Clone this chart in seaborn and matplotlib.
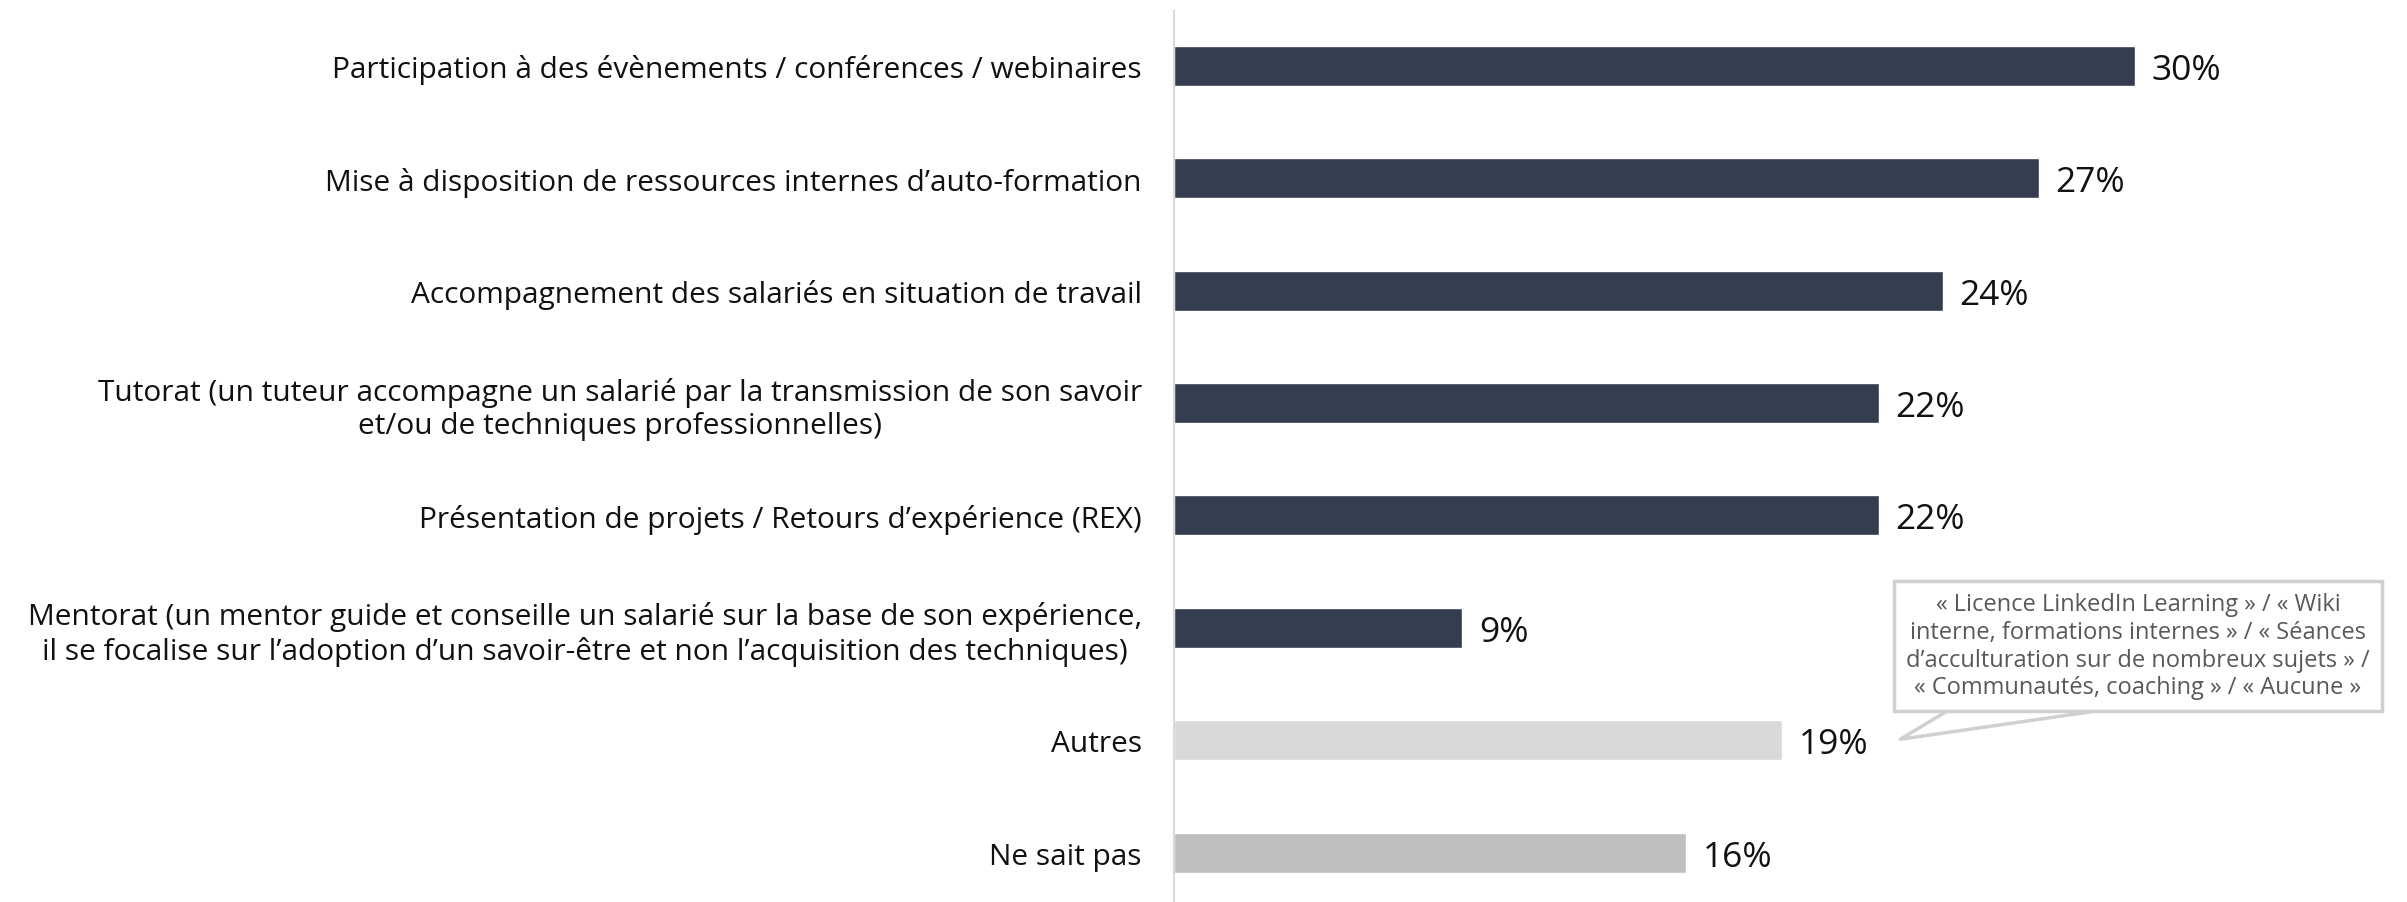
import matplotlib
matplotlib.use("Agg")
import matplotlib.pyplot as plt
import seaborn as sns
import pandas as pd

categories = [
    "Participation à des évènements / conférences / webinaires",
    "Mise à disposition de ressources internes d’auto-formation",
    "Accompagnement des salariés en situation de travail",
    "Tutorat (un tuteur accompagne un salarié par la transmission de son savoir\net/ou de techniques professionnelles)",
    "Présentation de projets / Retours d’expérience (REX)",
    "Mentorat (un mentor guide et conseille un salarié sur la base de son expérience,\nil se focalise sur l’adoption d’un savoir-être et non l’acquisition des techniques)",
    "Autres",
    "Ne sait pas",
]
values = [30, 27, 24, 22, 22, 9, 19, 16]
bar_colors = ["#343E50"] * 6 + ["#D9D9D9", "#BFBFBF"]
callout_text = ("« Licence LinkedIn Learning » / « Wiki\n"
                "interne, formations internes » / « Séances\n"
                "d’acculturation sur de nombreux sujets » /\n"
                "« Communautés, coaching » / « Aucune »")

df = pd.DataFrame({"cat": categories, "val": values})

sns.set_style("white")
plt.rcParams["font.family"] = ["Open Sans", "DejaVu Sans"]

fig = plt.figure(figsize=(24.07, 9.03), dpi=100)
ax = fig.add_axes([0.4877, 0.0, 0.5123, 0.987])

sns.barplot(data=df, y="cat", x="val", hue="cat", palette=bar_colors,
            orient="h", width=0.356, legend=False, ax=ax, saturation=1)

for c in ax.containers:
    txts = ax.bar_label(c, fmt="%d%%", padding=12, fontsize=25.5, color="#111111")
    for t in txts:
        t.set_va("center_baseline")

ax.set_xlim(0, 38.5)
ax.set_ylim(7.44, -0.49)
ax.set_xlabel("")
ax.set_ylabel("")
ax.set_xticks([])
ax.tick_params(axis="y", length=0, pad=23, labelsize=21.5, labelcolor="#111111")
for lbl in ax.get_yticklabels():
    lbl.set_multialignment("center")

for s in ["top", "right", "bottom"]:
    ax.spines[s].set_visible(False)
ax.spines["left"].set_color("#D9D9D9")
ax.spines["left"].set_linewidth(1.5)

# callout bubble: tail pointing to "Autres", box on top of it
ax.annotate("", xy=(22.6, 6.0), xytext=(28.3, 5.42),
            arrowprops=dict(arrowstyle="wedge,tail_width=2.2,shrink_factor=0.5",
                            fc="white", ec="#D0D0D0", lw=2.5,
                            mutation_scale=25),
            annotation_clip=False, zorder=4)
ax.text(30.1, 5.16, callout_text, ha="center", va="center", fontsize=17,
        color="#595959", linespacing=1.2, zorder=5,
        bbox=dict(boxstyle="square,pad=0.5", fc="white", ec="#D0D0D0", lw=2.5))

fig.savefig("out.png", dpi=100)
